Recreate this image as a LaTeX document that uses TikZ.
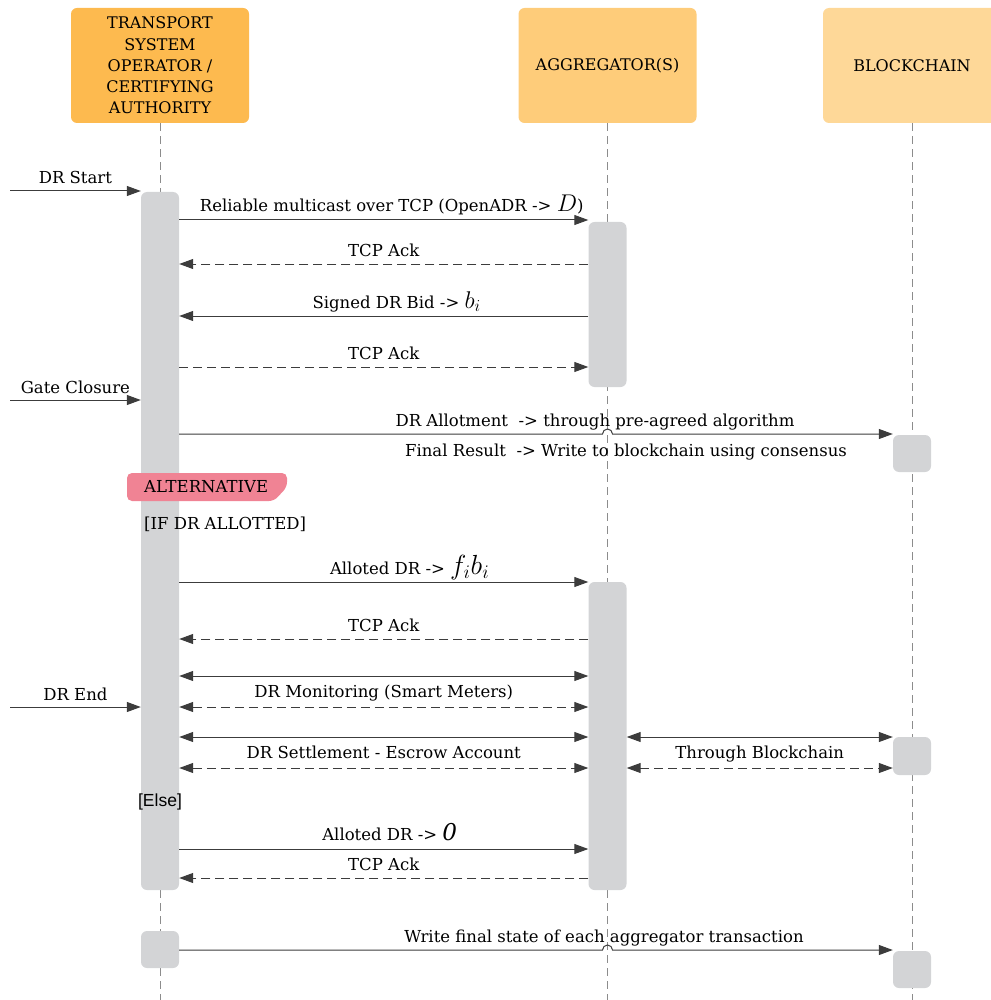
\documentclass[tikz,border=0pt]{standalone}
\usepackage{graphicx}
\usepackage{fontspec}
\setmainfont{DejaVu Serif}
\newfontfamily\elsefont{Liberation Sans}
\usetikzlibrary{arrows.meta,calc}

\definecolor{tsocol}{RGB}{253,186,79}
\definecolor{aggcol}{RGB}{254,204,122}
\definecolor{chaincol}{RGB}{254,216,152}
\definecolor{barcol}{RGB}{211,212,214}
\definecolor{altcol}{RGB}{240,131,148}
\definecolor{linecol}{RGB}{60,60,60}

\tikzset{
  head/.style={fill=#1, rounded corners=6pt, minimum width=178pt, minimum height=115pt, inner sep=0pt, align=center, font=\fontsize{16}{21.3}\selectfont},
  actbar/.style={fill=barcol, rounded corners=6pt, minimum width=38pt, inner sep=0pt},
  lifeline/.style={color=black!45, line width=0.8pt, dash pattern=on 8pt off 5pt},
  msg/.style={color=linecol, line width=1pt, -{Triangle[length=14pt,width=10pt]}},
  ackmsg/.style={msg, dash pattern=on 9pt off 5pt},
  bothmsg/.style={msg, {Triangle[length=14pt,width=10pt]}-{Triangle[length=14pt,width=10pt]}},
  lbl/.style={font=\fontsize{16.5}{19}\selectfont, inner sep=0pt, text=black},
}
\def\bigm#1{\scalebox{1.4}{$#1$}}

\begin{document}
\begin{tikzpicture}[x=1pt,y=-1pt]
  \useasboundingbox (0,0) rectangle (990,1000);

  %%%%% HEADS %%%%%
  \node[head=tsocol] (tso) at (160,65.5) {TRANSPORT\\SYSTEM\\OPERATOR /\\CERTIFYING\\AUTHORITY};
  \node[head=aggcol] (agg) at (607.5,65.5) {AGGREGATOR(S)};
  \node[head=chaincol] (chain) at (912,65.5) {BLOCKCHAIN};

  \draw[lifeline] (tso.south) -- (tso.south |- 0,1000);
  \draw[lifeline] (agg.south) -- (agg.south |- 0,1000);
  \draw[lifeline] (chain.south) -- (chain.south |- 0,1000);

  %%%%% BARS %%%%%
  \node[actbar, minimum height=698pt] (tsobar) at (160,541) {};
  \node[actbar, minimum height=37pt] (tsobar2) at (160,949.5) {};
  \node[actbar, minimum height=165pt] (aggbar1) at (607.5,304.5) {};
  \node[actbar, minimum height=308pt] (aggbar2) at (607.5,736) {};
  \node[actbar, minimum height=37pt] (chainbar1) at (912,453.5) {};
  \node[actbar, minimum height=38pt] (chainbar2) at (912,756) {};
  \node[actbar, minimum height=37pt] (chainbar3) at (912,969.5) {};

  %%%%% BIDDING %%%%%
  \coordinate (drstart) at (10,191);
  \draw[msg] (drstart) -- (tsobar.west |- drstart) node[lbl, midway, anchor=base, yshift=7pt] {DR Start};
  \draw[msg] (tsobar.east |- 0,220) -- (aggbar1.west |- 0,220) node[lbl, midway, anchor=base, yshift=8pt, xshift=8pt] {Reliable multicast over TCP (OpenADR -> \bigm{D})};
  \draw[ackmsg] (aggbar1.west |- 0,264) -- (tsobar.east |- 0,264) node[lbl, midway, anchor=base, yshift=8pt] {TCP Ack};
  \draw[msg] (aggbar1.west |- 0,316) -- (tsobar.east |- 0,316) node[lbl, midway, anchor=base, yshift=8pt, xshift=13pt] {Signed DR Bid -> \bigm{b_i}};
  \draw[ackmsg] (tsobar.east |- 0,367) -- (aggbar1.west |- 0,367) node[lbl, midway, anchor=base, yshift=8pt] {TCP Ack};

  \coordinate (gate) at (10,400);
  \draw[msg] (gate) -- (tsobar.west |- gate) node[lbl, midway, anchor=base, yshift=7pt] {Gate Closure};

  %%%%% ALLOTMENT %%%%%
  \draw[msg] (tsobar.east |- 0,434) -- ($(agg.south |- 0,434)+(-5,0)$) arc (180:360:5) -- (chainbar1.west |- 0,434);
  \node[lbl, anchor=base] (allot) at (595,426) {DR Allotment~ -> through pre-agreed algorithm};
  \node[lbl, anchor=base] (final) at (626,456) {Final Result~ -> Write to blockchain using consensus};

  \fill[altcol, rounded corners=5pt] (127,473) -- (287,473) -- (287,487) -- (274,501) -- (127,501) -- cycle;
  \node[lbl, anchor=west] (alt) at (144,487) {ALTERNATIVE};
  \node[lbl, anchor=base west] (ifguard) at (144,529) {[IF DR ALLOTTED]};

  \draw[msg] (tsobar.east |- 0,582) -- (aggbar2.west |- 0,582) node[lbl, midway, anchor=base, yshift=8pt, xshift=26pt] {Alloted DR -> \scalebox{1.6}{$f_i b_i$}};
  \draw[ackmsg] (aggbar2.west |- 0,639) -- (tsobar.east |- 0,639) node[lbl, midway, anchor=base, yshift=8pt] {TCP Ack};

  \draw[bothmsg] (tsobar.east |- 0,676) -- (aggbar2.west |- 0,676);
  \draw[bothmsg, dash pattern=on 9pt off 5pt] (tsobar.east |- 0,707) -- (aggbar2.west |- 0,707) node[lbl, midway, anchor=base, yshift=10pt] {DR Monitoring (Smart Meters)};
  \coordinate (drend) at (10,707);
  \draw[msg] (drend) -- (tsobar.west |- drend) node[lbl, midway, anchor=base, yshift=7pt] {DR End};

  \draw[bothmsg] (tsobar.east |- 0,737) -- (aggbar2.west |- 0,737);
  \draw[bothmsg, dash pattern=on 9pt off 5pt] (tsobar.east |- 0,768) -- (aggbar2.west |- 0,768) node[lbl, midway, anchor=base, yshift=10pt] {DR Settlement - Escrow Account};
  \draw[bothmsg] (aggbar2.east |- 0,737) -- (chainbar2.west |- 0,737);
  \draw[bothmsg, dash pattern=on 9pt off 5pt] (aggbar2.east |- 0,768) -- (chainbar2.west |- 0,768) node[lbl, midway, anchor=base, yshift=10pt] {Through Blockchain};

  %%%%% ELSE %%%%%
  \node[font=\elsefont\fontsize{17.5}{20}\selectfont, inner sep=0pt] (elseguard) at (160,802) {[Else]};
  \draw[msg] (tsobar.east |- 0,849) -- (aggbar2.west |- 0,849) node[lbl, midway, anchor=base, yshift=9pt, xshift=6pt] {Alloted DR -> \bigm{\mathit{0}}};
  \draw[ackmsg] (aggbar2.west |- 0,878) -- (tsobar.east |- 0,878) node[lbl, midway, anchor=base, yshift=8pt] {TCP Ack};

  %%%%% FINAL %%%%%
  \draw[msg] (tsobar2.east |- 0,950) -- ($(agg.south |- 0,950)+(-5,0)$) arc (180:360:5) -- (chainbar3.west |- 0,950);
  \node[lbl, anchor=base] (finalstate) at (604,942) {Write final state of each aggregator transaction};
\end{tikzpicture}
\end{document}
